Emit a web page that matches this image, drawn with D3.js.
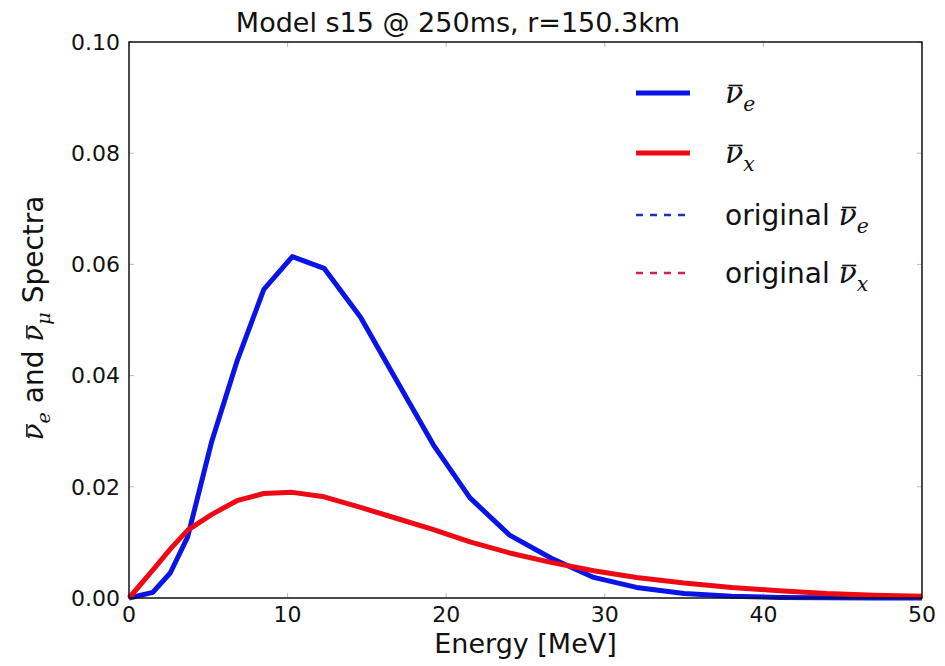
<!DOCTYPE html>
<html>
<head>
<meta charset="utf-8">
<script src="https://cdn.jsdelivr.net/npm/d3@7"></script>
<style>
  body { margin: 0; background: #fff; }
  text { font-family: "DejaVu Sans", sans-serif; fill: #111; white-space: pre; }
</style>
</head>
<body>
<svg width="945" height="666"></svg>
<script>
  // energy bins [MeV]
  const energy = [0, 1.5, 2.6, 3.7, 5.2, 6.8, 8.5, 10.3, 12.3, 14.6, 16.9, 19.2, 21.5, 24.0, 26.6, 29.3, 32.0, 35, 38, 41, 44, 47, 50];
  // anti nu_e spectrum
  const nuE = [0, 0.001, 0.0045, 0.011, 0.028, 0.0425, 0.0555, 0.0614, 0.0593, 0.0505, 0.039, 0.0275, 0.018, 0.0113, 0.0072, 0.0037, 0.0019, 0.0008, 0.0003, 0.0001, 0.00005, 0, 0];
  // anti nu_x spectrum
  const nuX = [0, 0.005, 0.0088, 0.0122, 0.015, 0.0175, 0.0188, 0.019, 0.0182, 0.0163, 0.0143, 0.0123, 0.0101, 0.0081, 0.0064, 0.0049, 0.0037, 0.0027, 0.0019, 0.0013, 0.0008, 0.0005, 0.0003];

  const xTicks = [0, 10, 20, 30, 40, 50];
  const yTicks = [0, 0.02, 0.04, 0.06, 0.08, 0.10];

  const svg = d3.select("svg");
  const margin = { left: 129, top: 42, right: 23, bottom: 68 };
  const width = 945 - margin.left - margin.right;
  const height = 666 - margin.top - margin.bottom;

  const x = d3.scaleLinear().domain([0, 50]).range([0, width]);
  const y = d3.scaleLinear().domain([0, 0.10]).range([height, 0]);

  const g = svg.append("g").attr("transform", `translate(${margin.left},${margin.top})`);

  // inward ticks, all four sides
  const tickColor = "#bbb";
  xTicks.forEach(t => {
    g.append("line").attr("x1", x(t)).attr("x2", x(t)).attr("y1", height).attr("y2", height - 5).attr("stroke", tickColor);
    g.append("line").attr("x1", x(t)).attr("x2", x(t)).attr("y1", 0).attr("y2", 5).attr("stroke", tickColor);
  });
  yTicks.forEach(t => {
    g.append("line").attr("x1", 0).attr("x2", 5).attr("y1", y(t)).attr("y2", y(t)).attr("stroke", tickColor);
    g.append("line").attr("x1", width).attr("x2", width - 5).attr("y1", y(t)).attr("y2", y(t)).attr("stroke", tickColor);
  });

  // tick labels
  g.selectAll(".xl").data(xTicks).enter().append("text")
    .attr("x", d => x(d)).attr("y", height + 24)
    .attr("text-anchor", "middle").attr("font-size", 22)
    .text(d => d);
  g.selectAll(".yl").data(yTicks).enter().append("text")
    .attr("x", -9).attr("y", d => y(d)).attr("dy", "0.35em")
    .attr("text-anchor", "end").attr("font-size", 22)
    .text(d => d3.format(".2f")(d));

  // curves
  const line = d3.line().x(d => x(d[0])).y(d => y(d[1]));
  g.append("path").datum(d3.zip(energy, nuE))
    .attr("d", line).attr("fill", "none").attr("stroke", "#0a14e6")
    .attr("stroke-width", 5).attr("stroke-linejoin", "round");
  g.append("path").datum(d3.zip(energy, nuX))
    .attr("d", line).attr("fill", "none").attr("stroke", "#ee0a14")
    .attr("stroke-width", 5).attr("stroke-linejoin", "round");

  // frame
  g.append("rect").attr("width", width).attr("height", height)
    .attr("fill", "none").attr("stroke", "#111").attr("stroke-width", 1.5);

  // nu-bar with subscript; returns char index of the nu glyph
  const mathFont = "DejaVu Serif, serif";
  const subShift = 0.25;
  const nuBar = (textSel, sub, size) => {
    textSel.append("tspan").attr("font-family", mathFont)
      .attr("font-style", "italic").attr("font-size", size).text("ν");
    const idx = textSel.node().getNumberOfChars() - 1;
    textSel.append("tspan").attr("font-family", mathFont)
      .attr("font-style", "italic").attr("font-size", size * 0.68)
      .attr("dy", size * subShift).text(sub);
    return idx;
  };
  const addBar = (textSel, idx, size) => {
    const node = textSel.node();
    const ext = node.getExtentOfChar(idx);
    const parent = d3.select(node.parentNode);
    parent.append("line")
      .attr("transform", textSel.attr("transform"))
      .attr("x1", ext.x + size * 0.12).attr("x2", ext.x + ext.width - size * 0.02)
      .attr("y1", ext.y + ext.height * 0.3).attr("y2", ext.y + ext.height * 0.3)
      .attr("stroke", "#111").attr("stroke-width", size * 0.055);
  };

  // title
  svg.append("text").attr("x", 458).attr("y", 32)
    .attr("text-anchor", "middle").attr("font-size", 27)
    .text("Model s15 @ 250ms, r=150.3km");

  // x label
  svg.append("text").attr("x", margin.left + width / 2).attr("y", 653)
    .attr("text-anchor", "middle").attr("font-size", 27)
    .text("Energy [MeV]");

  // y label
  const yl = svg.append("text").attr("font-size", 28)
    .attr("text-anchor", "middle")
    .attr("transform", "translate(43,318) rotate(-90)");
  const i1 = nuBar(yl, "e", 28);
  yl.append("tspan").attr("dy", -28 * subShift).text(" and ");
  const i2 = nuBar(yl, "μ", 28);
  yl.append("tspan").attr("dy", -28 * subShift).text(" Spectra");
  addBar(yl, i1, 28);
  addBar(yl, i2, 28);

  // legend
  const legendItems = [
    { color: "#0a14e6", dash: null, w: 5, label: "", sub: "e" },
    { color: "#ee0a14", dash: null, w: 5, label: "", sub: "x" },
    { color: "#2030c0", dash: "7,7", w: 2.5, label: "original ", sub: "e" },
    { color: "#d82050", dash: "7,7", w: 2.5, label: "original ", sub: "x" }
  ];
  const legendY = [93, 153, 215, 273];
  legendItems.forEach((d, i) => {
    svg.append("line").attr("x1", 636).attr("x2", 690)
      .attr("y1", legendY[i]).attr("y2", legendY[i])
      .attr("stroke", d.color).attr("stroke-width", d.w)
      .attr("stroke-dasharray", d.dash);
    const t = svg.append("text").attr("x", 725).attr("y", legendY[i] + 10)
      .attr("font-size", 28);
    if (d.label) t.append("tspan").text(d.label);
    const idx = nuBar(t, d.sub, 30);
    addBar(t, idx, 30);
  });
</script>
</body>
</html>
